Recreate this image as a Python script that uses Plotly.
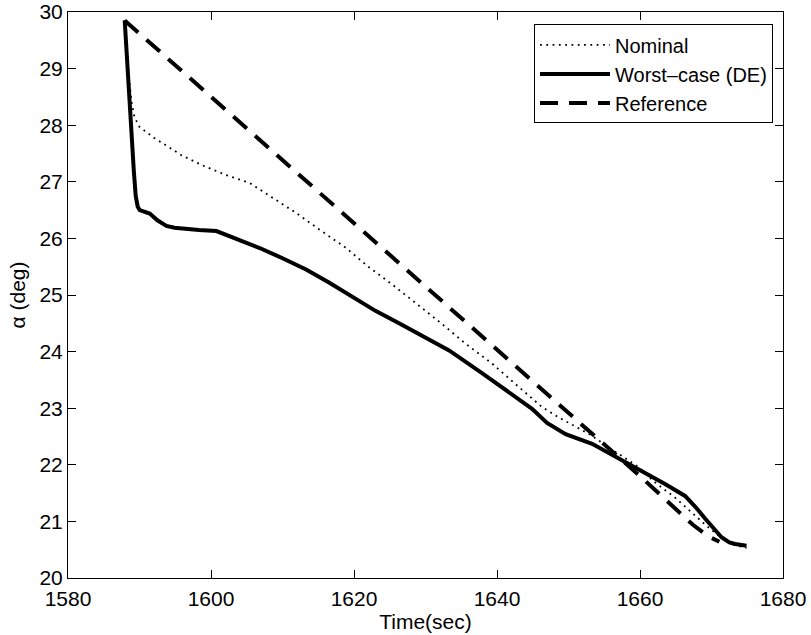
import plotly.graph_objects as go

# ---- data ----
nominal_t = [1587.93, 1588.4, 1588.9, 1589.3, 1590.0, 1592.0, 1594.0, 1596.0, 1599.0,
             1602.1, 1605.4, 1608.5, 1611.9, 1615.0, 1618.9, 1622.0, 1625.4, 1628.5,
             1632.3, 1635.5, 1639.3, 1643.0, 1646.3, 1648.6, 1652.8, 1655.6, 1659.8,
             1662.0, 1664.9, 1667.3, 1669.6, 1671.3, 1672.8, 1674.9]
nominal_a = [29.85, 29.0, 28.4, 28.14, 27.97, 27.78, 27.62, 27.46, 27.28,
             27.12, 26.98, 26.72, 26.45, 26.17, 25.83, 25.50, 25.18, 24.87,
             24.49, 24.15, 23.79, 23.38, 23.02, 22.84, 22.55, 22.31, 21.96,
             21.70, 21.42, 21.15, 20.89, 20.72, 20.60, 20.53]

worst_t = [1587.93, 1588.4, 1588.87, 1589.2, 1589.47, 1589.75, 1590.03, 1590.5, 1591.0,
           1591.43, 1592.5, 1593.76, 1594.9, 1596.08, 1598.3, 1600.76, 1602.15, 1604.48,
           1606.81, 1610.0, 1613.3, 1616.5, 1620.0, 1623.0, 1626.3, 1630.5, 1633.3,
           1637.9, 1641.5, 1644.9, 1647.0, 1649.6, 1653.3, 1656.5, 1660.3, 1663.5,
           1666.3, 1667.8, 1669.1, 1670.3, 1671.4, 1672.5, 1673.3, 1674.9]
worst_a = [29.85, 28.8, 27.86, 27.2, 26.75, 26.56, 26.50, 26.48, 26.47,
           26.44, 26.32, 26.22, 26.19, 26.17, 26.15, 26.13, 26.06, 25.95,
           25.83, 25.65, 25.45, 25.22, 24.95, 24.72, 24.50, 24.22, 24.02,
           23.62, 23.30, 22.99, 22.74, 22.54, 22.37, 22.15, 21.87, 21.66,
           21.45, 21.25, 21.05, 20.88, 20.72, 20.63, 20.60, 20.57]

ref_t = [1587.93, 1660.0, 1667.4, 1669.5, 1671.1]
ref_a = [29.85, 21.80, 20.94, 20.74, 20.64]

x_ticks = [1580, 1600, 1620, 1640, 1660, 1680]
y_ticks = [20, 21, 22, 23, 24, 25, 26, 27, 28, 29, 30]

FONT = "Liberation Sans, Arial, Helvetica, sans-serif"

fig = go.Figure()
fig.add_trace(go.Scatter(x=nominal_t, y=nominal_a, mode="lines", name="Nominal",
                         line=dict(color="black", width=1.8, dash="1.8px,4.5px")))
fig.add_trace(go.Scatter(x=worst_t, y=worst_a, mode="lines", name="Worst–case (DE)",
                         line=dict(color="black", width=4)))
fig.add_trace(go.Scatter(x=ref_t, y=ref_a, mode="lines", name="Reference",
                         line=dict(color="black", width=4, dash="18px,11px")))

axis_common = dict(showline=True, linecolor="black", linewidth=1, mirror="ticks",
                   ticks="inside", ticklen=8, tickcolor="black", tickwidth=1,
                   showgrid=False, zeroline=False, automargin=False,
                   ticklabeloverflow="allow",
                   tickfont=dict(family=FONT, size=21, color="black"))

fig.update_xaxes(range=[1580, 1680], tickvals=x_ticks, ticktext=[str(v) for v in x_ticks],
                 ticklabelstandoff=2,
                 title=dict(text="Time(sec)", font=dict(family=FONT, size=21, color="black"),
                            standoff=5),
                 **axis_common)
fig.update_yaxes(range=[20, 30], tickvals=y_ticks, ticktext=[str(v) for v in y_ticks],
                 title=dict(text="α (deg)", font=dict(family=FONT, size=21, color="black"),
                            standoff=8),
                 **axis_common)

fig.update_layout(
    width=811, height=635,
    margin=dict(l=68, r=28, t=12, b=57),
    plot_bgcolor="white", paper_bgcolor="white",
    font=dict(family=FONT, size=21, color="black"),
    legend=dict(x=0.986, y=0.978, xanchor="right", yanchor="top",
                bgcolor="white", bordercolor="black", borderwidth=1,
                font=dict(family=FONT, size=20, color="black"),
                tracegroupgap=0, itemwidth=70),
    showlegend=True,
)

# remove the default 8px page margin so the figure fills the window exactly
fig.write_html("out.html", config={"displayModeBar": False},
               post_script="document.body.style.margin='0px';")
